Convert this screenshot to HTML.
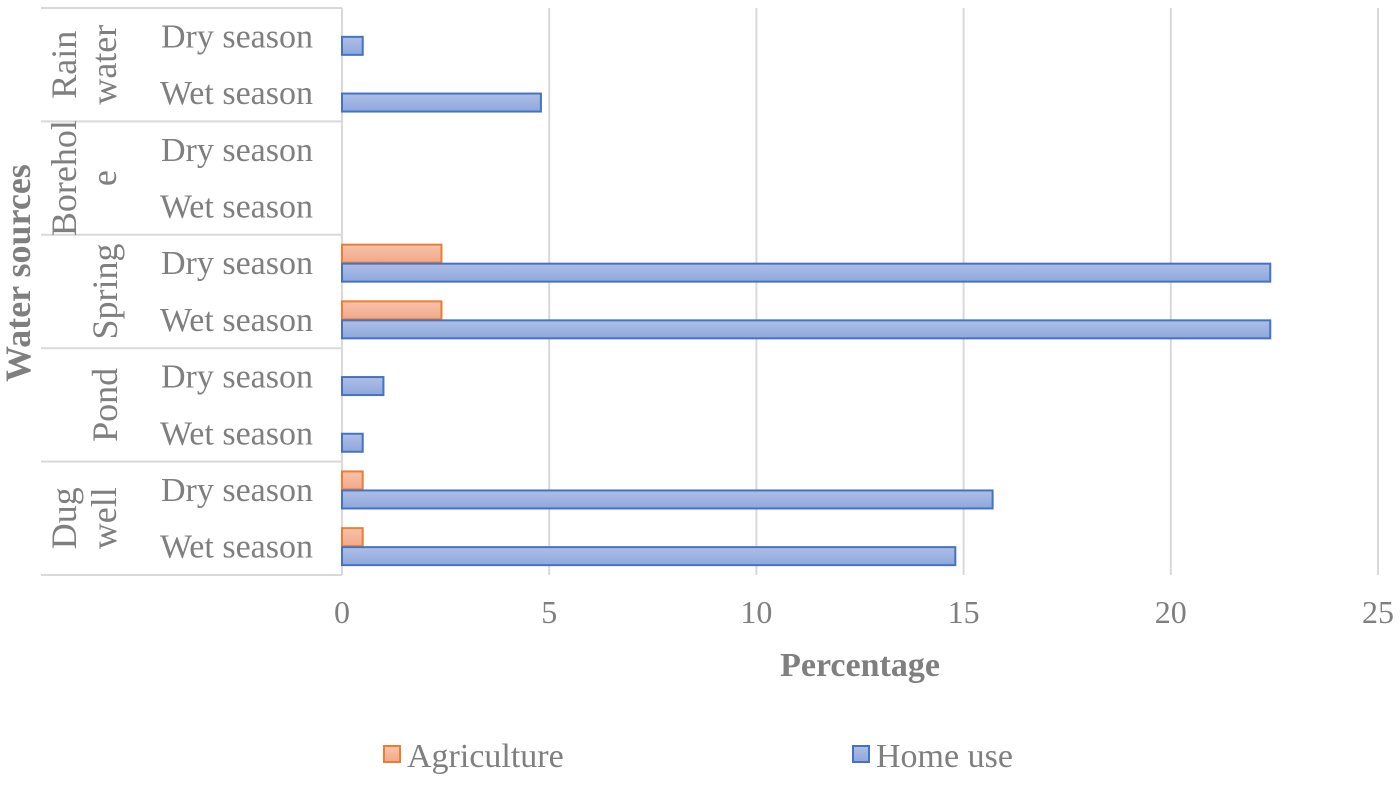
<!DOCTYPE html>
<html><head><meta charset="utf-8"><style>
body{margin:0;background:#fff;}
svg text{font-family:"Liberation Serif",serif;fill:#7f7f7f;}
</style></head><body>
<svg id="chart" width="1400" height="781">
<defs>
<linearGradient id="gb" x1="0" y1="0" x2="0" y2="1"><stop offset="0" stop-color="#aebfe6"/><stop offset="1" stop-color="#8ea7dc"/></linearGradient>
<linearGradient id="go" x1="0" y1="0" x2="0" y2="1"><stop offset="0" stop-color="#f7c3ad"/><stop offset="1" stop-color="#f2a886"/></linearGradient>
</defs>
<g id="grid"></g><g id="cats"></g><g id="bars"></g><g id="ticks"></g>
<text x="860" y="676" text-anchor="middle" font-size="34" font-weight="bold">Percentage</text>
<text transform="translate(30,273) rotate(-90)" text-anchor="middle" font-size="36" font-weight="bold">Water sources</text>
<g><rect x="384" y="746" width="16" height="16" fill="url(#go)" stroke="#ed7d31" stroke-width="2"/><text x="407" y="767" font-size="34">Agriculture</text></g>
<g><rect x="853" y="746" width="16" height="16" fill="url(#gb)" stroke="#4472c4" stroke-width="2"/><text x="876" y="767" font-size="34">Home use</text></g>
</svg>
<script>
const groups=[["Rain","water"],["Borehol","e"],["Spring"],["Pond"],["Dug","well"]];
const seasons=["Dry season","Wet season"];
const agriculture=[0,0, 0,0, 2.4,2.4, 0,0, 0.5,0.5];
const homeUse=[0.5,4.8, 0,0, 22.4,22.4, 1.0,0.5, 15.7,14.8];
const ticks=[0,5,10,15,20,25];
const NS="http://www.w3.org/2000/svg";
const x0=342,x1=1378,y0=8,y1=575,maxV=25;
const X=v=>x0+(x1-x0)*v/maxV;
const rowH=(y1-y0)/agriculture.length;
const Y=i=>y0+rowH*i;
function mk(tag,attrs,parent,txt){const e=document.createElementNS(NS,tag);for(const k in attrs)e.setAttribute(k,attrs[k]);if(txt!==undefined)e.textContent=txt;document.getElementById(parent).appendChild(e);return e;}
ticks.forEach(t=>{
 if(t>0){const l=mk('line',{x1:X(t),x2:X(t),y1:y0,y2:y1,stroke:'#d9d9d9','stroke-width':2},'grid');
 
 }
 const tx=mk('text',{x:X(t),y:623,'text-anchor':'middle','font-size':32},'ticks',t);
 
 
});
const ax=mk('line',{x1:x0,x2:x0,y1:y0,y2:y1,stroke:'#d9d9d9','stroke-width':2},'grid');


for(let g=0;g<=groups.length;g++){
 const y=Y(g*2);
 const l=mk('line',{x1:41,x2:x0,y1:y,y2:y,stroke:'#d9d9d9','stroke-width':2},'cats');
 
 
}
groups.forEach((lines,g)=>{
 const cy=Y(g*2+1);
 lines.forEach((s,j)=>{
  const cx=lines.length===1?117:(j===0?76:116);
  const t=mk('text',{transform:`translate(${cx},${cy}) rotate(-90)`,'text-anchor':'middle','font-size':36},'cats',s);
  
  
 });
});
agriculture.forEach((v,i)=>{
 const t=mk('text',{x:313,y:Y(i)+rowH/2+11,'text-anchor':'end','font-size':34},'cats',seasons[i%2]);
 
 
 const c=Y(i)+rowH/2, bh=18;
 if(v>0){const r=mk('rect',{x:x0,y:c-bh-0.5,width:X(v)-x0,height:bh,fill:'url(#go)',stroke:'#ed7d31','stroke-width':2},'bars');
 
 }
 const h=homeUse[i];
 if(h>0){const r=mk('rect',{x:x0,y:c+0.5,width:X(h)-x0,height:bh,fill:'url(#gb)',stroke:'#4472c4','stroke-width':2},'bars');
 
 }
});
</script>
</body></html>
